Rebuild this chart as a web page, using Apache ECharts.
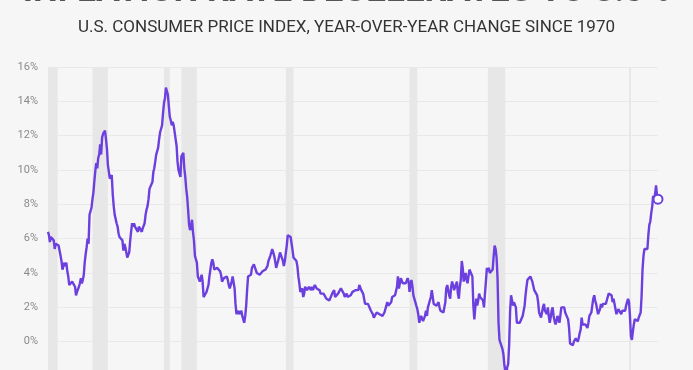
<!DOCTYPE html>
<html><head><meta charset="utf-8">
<script src="https://cdn.jsdelivr.net/npm/echarts@6/dist/echarts.min.js"></script>
<style>html,body{margin:0;padding:0;background:#f6f6f6;}#c{width:693px;height:370px;}</style>
</head><body><div id="c"></div>
<script>
const titleText = 'INFLATION RATE DECELERATES TO 8.3%';
const subtitleText = 'U.S. CONSUMER PRICE INDEX, YEAR-OVER-YEAR CHANGE SINCE 1970';
const startYear = 1970;
const cpi1970s = [
 6.4,6.2,5.8,6.1,6.0,6.0,5.9,5.4,5.7,5.6,5.7,5.6,
 5.3,5.0,4.7,4.2,4.4,4.6,4.4,4.6,4.1,3.8,3.3,3.3,
 3.3,3.5,3.5,3.5,3.2,2.7,2.9,2.9,3.2,3.4,3.7,3.4,
 3.6,3.9,4.6,5.1,5.5,6.0,5.7,7.4,7.4,7.8,8.3,8.7,
 9.4,10.0,10.4,10.1,10.7,10.9,11.5,10.9,11.9,12.1,12.2,12.3,
 11.8,11.2,10.3,10.2,9.5,9.4,9.7,8.6,7.9,7.4,7.4,6.9,
 6.7,6.3,6.1,6.0,6.2,5.9,5.3,5.7,5.5,5.5,4.9,4.9,
 5.2,5.9,6.4,6.9,6.7,6.9,6.7,6.6,6.6,6.4,6.7,6.7,
 6.8,6.4,6.6,6.5,6.9,7.4,7.7,7.9,8.3,8.9,8.9,9.0,
 9.3,9.9,10.1,10.5,10.9,10.9,11.3,11.8,12.2,12.1,12.6,13.3];
const cpi1980s = [
 13.9,14.2,14.8,14.7,14.4,14.4,13.1,12.9,12.6,12.8,12.6,12.5,
 11.8,11.4,10.5,10.0,9.8,9.6,10.8,10.8,11.0,10.1,9.6,8.9,
 8.4,7.6,6.8,6.5,6.7,7.1,6.4,5.9,5.0,5.1,4.6,3.8,
 3.7,3.5,3.6,3.9,3.5,2.6,2.5,2.6,2.9,2.9,3.3,3.8,
 4.2,4.6,4.8,4.6,4.2,4.2,4.2,4.3,4.3,4.3,4.1,3.9,
 3.5,3.5,3.7,3.7,3.8,3.8,3.6,3.3,3.1,3.2,3.5,3.8,
 3.9,3.1,2.2,1.6,1.5,1.8,1.6,1.6,1.8,1.5,1.3,1.1,
 1.5,2.1,3.0,3.8,3.9,3.7,3.9,4.3,4.4,4.5,4.5,4.4,
 4.0,3.9,3.9,3.9,3.9,4.0,4.1,4.0,4.2,4.2,4.2,4.4,
 4.7,4.8,5.0,5.1,5.4,5.2,5.0,4.7,4.3,4.5,4.7,4.6];
const cpi1990s = [
 5.2,5.3,5.2,4.7,4.4,4.7,4.8,5.6,6.2,6.3,6.3,6.1,
 5.7,5.3,4.9,4.9,5.0,4.7,4.4,3.8,3.4,2.9,3.0,3.1,
 2.6,2.8,3.2,3.2,3.0,3.1,3.2,3.1,3.0,3.2,3.0,2.9,
 3.3,3.2,3.1,3.2,3.2,3.0,2.8,2.8,2.7,2.8,2.7,2.7,
 2.5,2.5,2.5,2.4,2.3,2.5,2.8,2.9,3.0,2.6,2.7,2.7,
 2.8,2.9,2.9,3.1,3.2,3.0,2.8,2.6,2.5,2.8,2.6,2.5,
 2.7,2.7,2.8,2.9,2.9,2.8,3.0,2.9,3.0,3.0,3.3,3.3,
 3.0,3.0,2.8,2.5,2.2,2.3,2.2,2.2,2.2,2.1,1.8,1.7,
 1.6,1.4,1.4,1.4,1.7,1.7,1.7,1.6,1.5,1.5,1.5,1.6,
 1.7,1.6,1.7,2.3,2.1,2.0,2.1,2.3,2.6,2.6,2.6,2.7];
const cpi2000s = [
 2.7,3.2,3.8,3.1,3.2,3.7,3.7,3.4,3.5,3.4,3.4,3.4,
 3.7,3.5,2.9,3.3,3.6,3.2,2.7,2.7,2.6,2.1,1.9,1.6,
 1.1,1.1,1.5,1.6,1.2,1.1,1.5,1.8,1.5,2.0,2.2,2.4,
 2.6,3.0,3.0,2.2,2.1,2.1,2.1,2.2,2.3,2.0,1.8,1.9,
 1.9,1.7,1.7,2.3,3.1,3.3,3.0,2.7,2.5,3.2,3.5,3.3,
 3.0,3.0,3.1,3.5,2.8,2.5,3.2,3.6,4.7,4.3,3.5,3.4,
 4.0,3.6,3.4,3.5,4.2,4.3,4.1,3.8,2.1,1.3,2.0,2.5,
 2.1,2.4,2.8,2.6,2.7,2.7,2.4,2.0,2.8,3.5,4.3,4.1,
 4.3,4.0,4.0,3.9,4.2,5.0,5.6,5.4,4.9,3.7,1.1,0.1,
 0.0,0.2,-0.4,-0.7,-1.3,-1.4,-2.1,-1.5,-1.3,-0.2,1.8,2.7];
const cpi2010s = [
 2.6,2.1,2.3,2.2,2.0,1.1,1.2,1.1,1.1,1.2,1.1,1.5,
 1.6,2.1,2.7,3.2,3.6,3.6,3.6,3.8,3.9,3.5,3.4,3.0,
 2.9,2.9,2.7,2.3,1.7,1.7,1.4,1.7,2.0,2.2,1.8,1.7,
 1.6,2.0,1.5,1.1,1.4,1.8,2.0,1.5,1.2,1.0,1.2,1.5,
 1.6,1.1,1.5,2.0,2.1,2.1,2.0,1.7,1.7,1.7,1.3,0.8,
 -0.1,0.0,-0.1,-0.2,0.0,0.1,0.2,0.2,0.0,0.2,0.5,0.7,
 1.4,1.0,0.9,1.1,1.0,1.0,0.8,1.1,1.5,1.6,1.7,2.1,
 2.5,2.7,2.4,2.2,1.9,1.6,1.7,1.9,2.2,2.0,2.2,2.1,
 2.1,2.2,2.4,2.5,2.8,2.9,2.9,2.7,2.3,2.5,2.2,1.9,
 1.6,1.5,1.9,2.0,1.8,1.6,1.8,1.7,1.7,1.8,2.1,2.3];
const cpi2020s = [
 2.5,2.3,1.5,0.3,0.1,0.6,1.0,1.3,1.4,1.2,1.2,1.4,
 1.4,1.7,2.6,4.2,5.0,5.4,5.4,5.3,5.4,6.2,6.8,7.0,
 7.5,7.9,8.5,8.3,8.6,9.1,8.5,8.3];
const recessions = [
 ['1970-01-01','1970-11-01'],
 ['1973-11-01','1975-03-01'],
 ['1980-01-01','1980-07-01'],
 ['1981-07-01','1982-11-01'],
 ['1990-07-01','1991-03-01'],
 ['2001-03-01','2001-11-01'],
 ['2007-12-01','2009-06-01'],
 ['2020-02-01','2020-04-01']];
const yTicks = [-2,0,2,4,6,8,10,12,14,16];

const values = [].concat(cpi1970s,cpi1980s,cpi1990s,cpi2000s,cpi2010s,cpi2020s);
function dateOf(i){const y=startYear+Math.floor(i/12), m=i%12+1;return y+'-'+(m<10?'0':'')+m+'-01';}
const seriesData = values.map((v,i)=>[dateOf(i),v]);
const last = seriesData[seriesData.length-1];
const purple = '#6c3fdf';

const chart = echarts.init(document.getElementById('c'), null, {renderer:'canvas'});
chart.setOption({
  backgroundColor:'#f6f6f6',
  animation:false,
  title:[{
    text: subtitleText, left:'center', top:14,
    textStyle:{fontFamily:'Roboto', fontWeight:'normal', fontSize:17, color:'#333'}
  }],
  graphic:[{
    type:'text', left:'center', top:-25,
    style:{text:titleText, font:'bold 35px Roboto', fill:'#555'}
  }],
  grid:{left:48, right:35, top:67, height:309, containLabel:false, outerBoundsMode:'none'},
  xAxis:{type:'time', min:dateOf(0), max:last[0],
    axisLine:{show:false}, axisTick:{show:false}, axisLabel:{show:false}, splitLine:{show:false}},
  yAxis:{type:'value', min:yTicks[0], max:yTicks[yTicks.length-1], interval:2,
    axisLine:{show:false}, axisTick:{show:false},
    axisLabel:{formatter:'{value}%', color:'#8a8a8a', fontFamily:'Roboto', fontSize:11, margin:10},
    splitLine:{lineStyle:{color:'#e9e9e9', width:1}}},
  series:[{
    type:'line', data:seriesData, showSymbol:false, symbol:'none',
    lineStyle:{color:purple, width:2.4}, itemStyle:{color:purple},
    markArea:{silent:true, itemStyle:{color:'#e7e7e7'},
      data: recessions.map(r=>[{xAxis:r[0]},{xAxis:r[1]}])},
    z:3
  },{
    type:'scatter', data:[last], symbol:'circle', symbolSize:9,
    itemStyle:{color:'#ffffff', borderColor:purple, borderWidth:2, opacity:1}, z:5
  }]
});
</script></body></html>
